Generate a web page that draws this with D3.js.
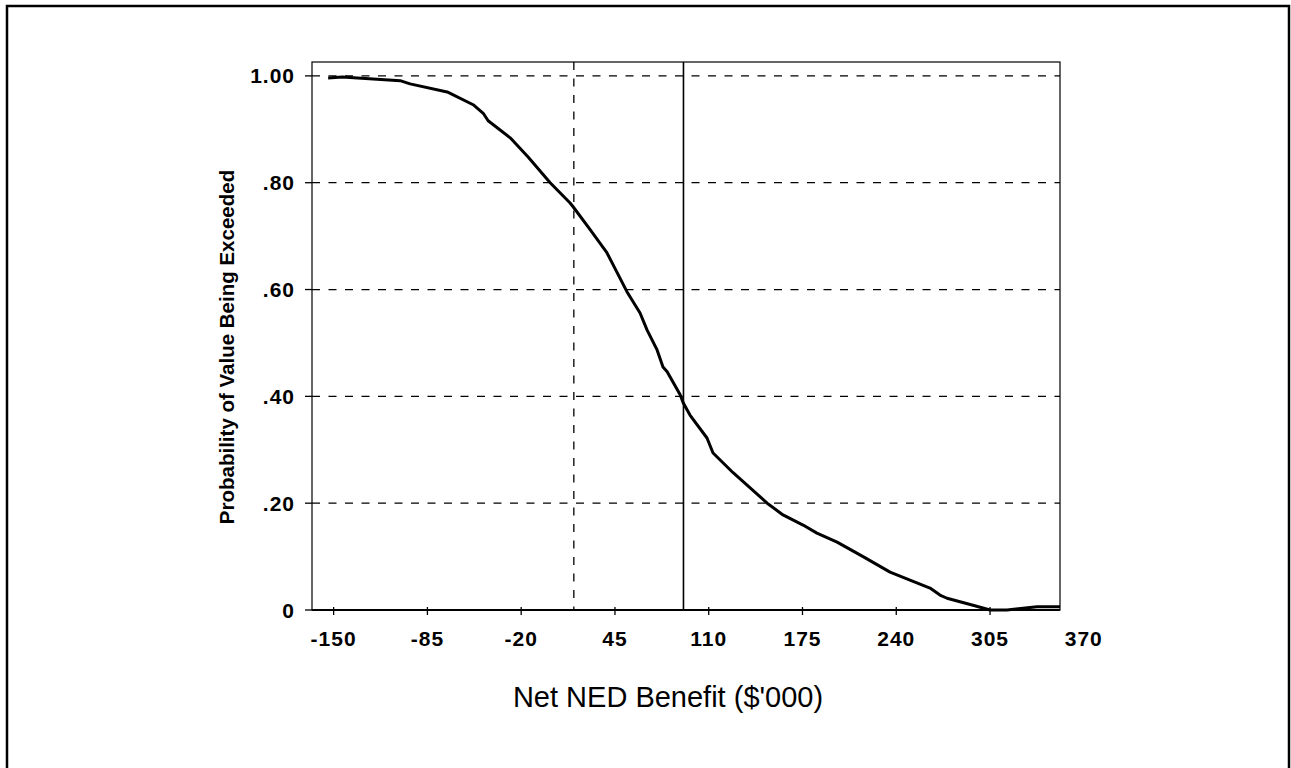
<!DOCTYPE html>
<html>
<head>
<meta charset="utf-8">
<script src="https://cdn.jsdelivr.net/npm/d3@7"></script>
<style>
  html, body { margin: 0; padding: 0; background: #fff; }
  svg { display: block; font-family: "Liberation Sans", Arial, sans-serif; }
</style>
</head>
<body>
<svg id="plot" width="1291" height="768"></svg>
<script>
// Net NED benefit ($'000) vs probability of being exceeded
const benefit = [-153.8, -144, -103.9, -97, -71.3, -53.3, -46.3, -42.9, -27.6, -15.2,
  0.1, 13.9, 16, 27.8, 39.4, 53.3, 62.4, 67.3, 74.2, 78.3, 81.2, 90.2, 92.3, 97,
  108.8, 113, 126.9, 150.5, 161.5, 175.4, 185, 199, 217.6, 235.7, 249.5, 263.4,
  270.3, 275.2, 293.2, 305, 316.8, 337.6, 353.5];
const probExceeded = [0.996, 0.998, 0.991, 0.985, 0.970, 0.946, 0.930, 0.916, 0.884, 0.848,
  0.800, 0.762, 0.755, 0.712, 0.669, 0.596, 0.556, 0.524, 0.487, 0.455, 0.446, 0.403, 0.388, 0.365,
  0.322, 0.294, 0.257, 0.200, 0.178, 0.159, 0.144, 0.127, 0.099, 0.071, 0.056, 0.041,
  0.028, 0.022, 0.009, 0.0, 0.0, 0.006, 0.006];

const xTicks = [-150, -85, -20, 45, 110, 175, 240, 305, 370];
const yTicks = [0, 0.2, 0.4, 0.6, 0.8, 1.0];
const yTickLabels = ["0", ".20", ".40", ".60", ".80", "1.00"];
const dashedMarker = 16.5; // vertical dashed line
const solidMarker = 92.5;  // vertical solid line

const plot = { left: 312, top: 62, right: 1060, bottom: 610 };

const svg = d3.select("#plot");

// outer frame (runs off the bottom of the page)
svg.append("rect")
  .attr("x", 7).attr("y", 6)
  .attr("width", 1282).attr("height", 820)
  .attr("fill", "none").attr("stroke", "#000").attr("stroke-width", 2.5);

const xScale = d3.scaleLinear().domain([-165, 353.5]).range([plot.left, plot.right]);
const yScale = d3.scaleLinear().domain([0, 1.026]).range([plot.bottom, plot.top]);

// horizontal dashed grid
svg.selectAll(".hgrid")
  .data(yTicks.filter((d) => d > 0))
  .enter()
  .append("line")
  .attr("class", "hgrid")
  .attr("x1", plot.left).attr("x2", plot.right)
  .attr("y1", (d) => yScale(d)).attr("y2", (d) => yScale(d))
  .attr("stroke", "#000").attr("stroke-width", 1.3)
  .attr("stroke-dasharray", "8,8.5");

// vertical reference lines
svg.append("line")
  .attr("x1", xScale(dashedMarker)).attr("x2", xScale(dashedMarker))
  .attr("y1", plot.top).attr("y2", plot.bottom)
  .attr("stroke", "#000").attr("stroke-width", 1.3)
  .attr("stroke-dasharray", "8,8.5");

svg.append("line")
  .attr("x1", xScale(solidMarker)).attr("x2", xScale(solidMarker))
  .attr("y1", plot.top).attr("y2", plot.bottom)
  .attr("stroke", "#000").attr("stroke-width", 1.6);

// plot box
svg.append("rect")
  .attr("x", plot.left).attr("y", plot.top)
  .attr("width", plot.right - plot.left).attr("height", plot.bottom - plot.top)
  .attr("fill", "none").attr("stroke", "#000").attr("stroke-width", 1.2);
svg.append("line")
  .attr("x1", plot.left).attr("x2", plot.right)
  .attr("y1", plot.bottom).attr("y2", plot.bottom)
  .attr("stroke", "#000").attr("stroke-width", 2);

// y ticks + labels
svg.selectAll(".ytick")
  .data(yTicks)
  .enter()
  .append("line")
  .attr("class", "ytick")
  .attr("x1", plot.left - 7).attr("x2", plot.left)
  .attr("y1", (d) => yScale(d)).attr("y2", (d) => yScale(d))
  .attr("stroke", "#000").attr("stroke-width", 1.3);

svg.selectAll(".ylabel")
  .data(yTicks)
  .enter()
  .append("text")
  .attr("class", "ylabel")
  .attr("x", 295)
  .attr("y", (d) => yScale(d) + 7.5)
  .attr("text-anchor", "end")
  .attr("font-size", 21)
  .attr("font-weight", "bold")
  .attr("letter-spacing", 1)
  .text((d, i) => yTickLabels[i]);

// x ticks + labels
svg.selectAll(".xtick")
  .data(xTicks.filter((d) => d <= xScale.domain()[1]))
  .enter()
  .append("line")
  .attr("class", "xtick")
  .attr("x1", (d) => xScale(d)).attr("x2", (d) => xScale(d))
  .attr("y1", plot.bottom - 3).attr("y2", plot.bottom + 5)
  .attr("stroke", "#000").attr("stroke-width", 1.3);

svg.selectAll(".xlabel")
  .data(xTicks)
  .enter()
  .append("text")
  .attr("class", "xlabel")
  .attr("x", (d) => xScale(d))
  .attr("y", 646)
  .attr("text-anchor", "middle")
  .attr("font-size", 21)
  .attr("font-weight", "bold")
  .attr("letter-spacing", 1)
  .text((d) => d);

// curve
const line = d3.line()
  .x((d) => xScale(d[0]))
  .y((d) => yScale(d[1]));

svg.append("path")
  .datum(benefit.map((b, i) => [b, probExceeded[i]]))
  .attr("d", line)
  .attr("fill", "none")
  .attr("stroke", "#000")
  .attr("stroke-width", 3)
  .attr("stroke-linejoin", "round");

// axis titles
svg.append("text")
  .attr("x", 668).attr("y", 707)
  .attr("text-anchor", "middle")
  .attr("font-size", 29)
  .text("Net NED Benefit ($'000)");

svg.append("text")
  .attr("transform", "translate(234,347) rotate(-90)")
  .attr("text-anchor", "middle")
  .attr("font-size", 20.5)
  .attr("font-weight", "bold")
  .text("Probability of Value Being Exceeded");
</script>
</body>
</html>
